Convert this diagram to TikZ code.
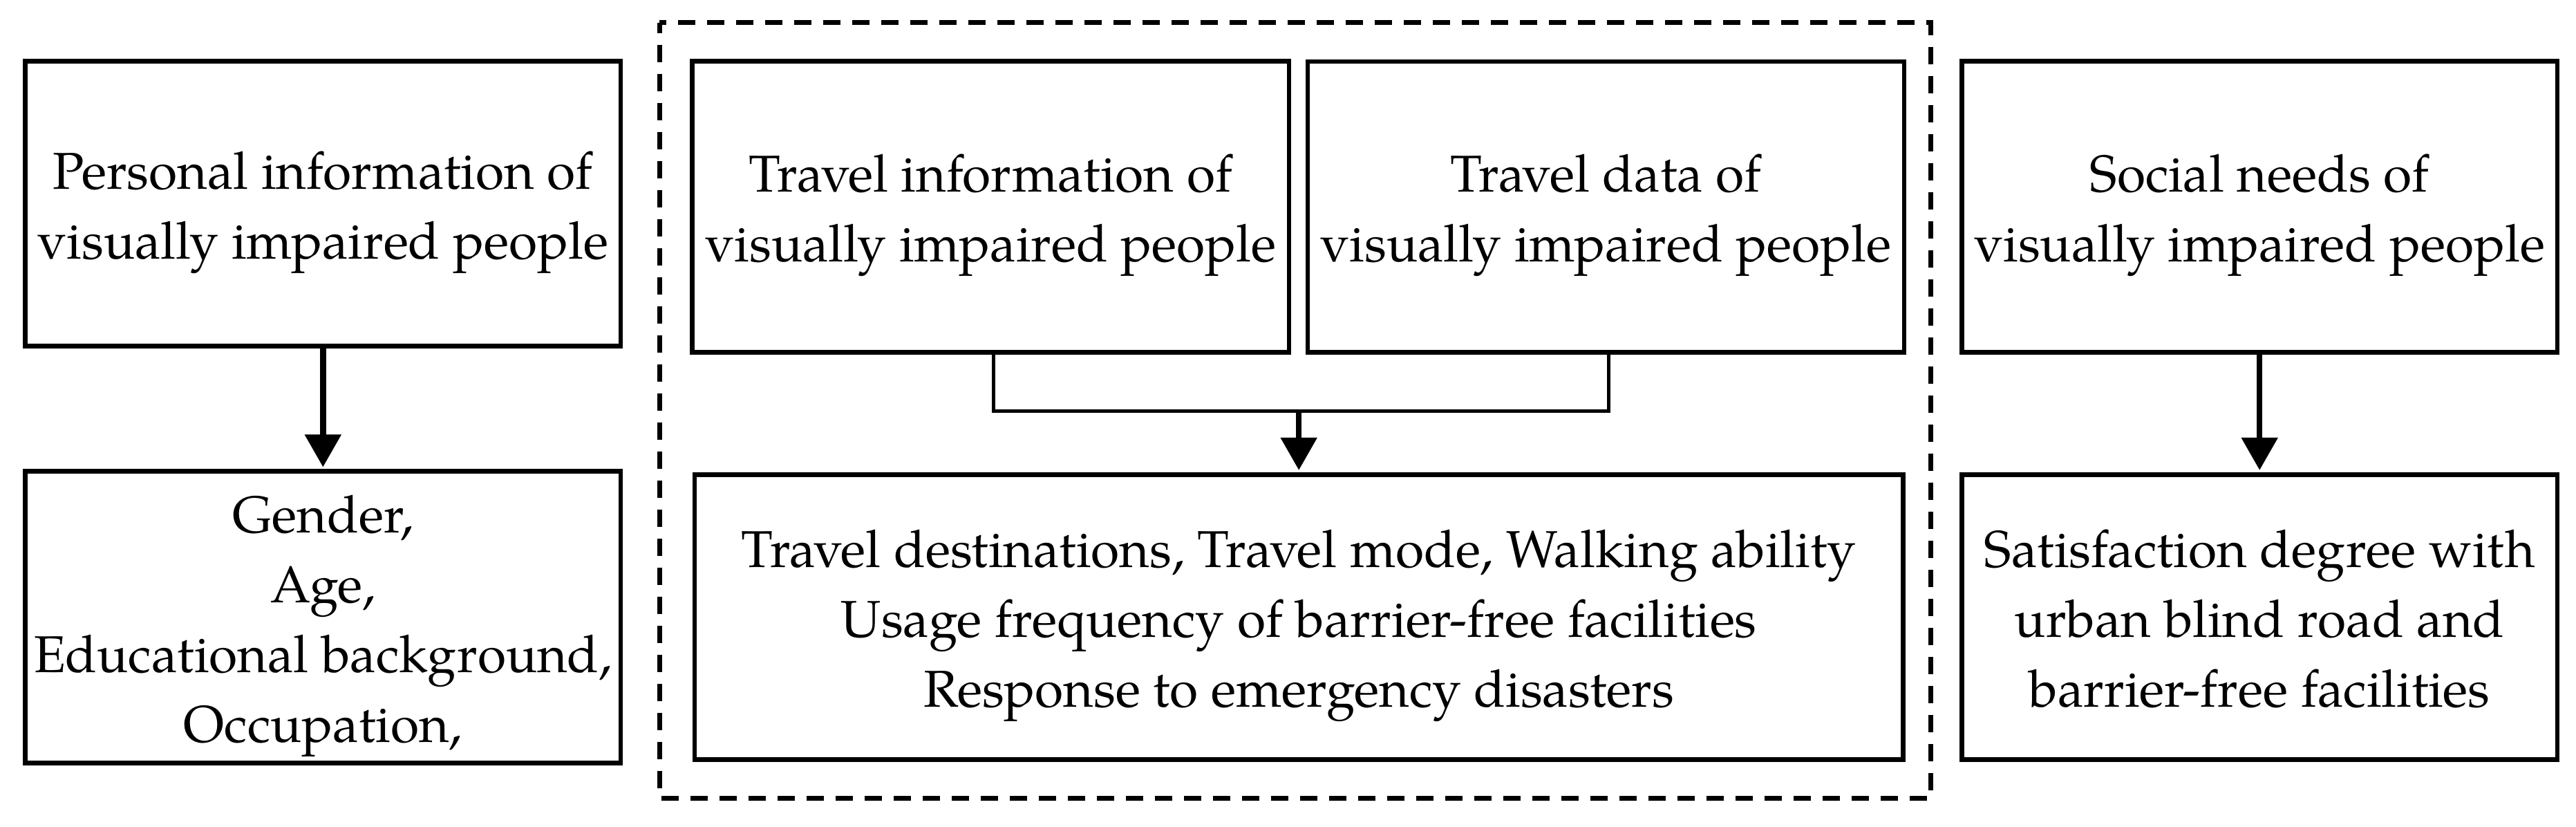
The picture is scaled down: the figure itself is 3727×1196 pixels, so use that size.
\documentclass[tikz,border=0pt]{standalone}
\usepackage{fontspec}
\setmainfont{TeX Gyre Pagella}
\usetikzlibrary{arrows.meta}
\newcommand\bxt[1]{\begin{tabular}{@{}c@{}}\rule{0pt}{88.7pt}#1\end{tabular}}
\begin{document}
\begin{tikzpicture}[x=1pt,y=1pt,
  box/.style={draw, line width=6.7pt, inner sep=0pt,
    font=\fontsize{75}{101}\selectfont},
  thinline/.style={line width=5pt},
  arr/.style={line width=8.5pt, shorten >=3pt, -{Triangle[width=51pt,length=47pt]}},
  dashbox/.style={draw, line width=6.7pt, dash pattern=on 25pt off 17pt, dash phase=10pt}]
\useasboundingbox (0,0) rectangle (3727,-1196);
\fill[white] (0,0) rectangle (3727,-1196);
% dashed frame
\draw[dashbox] (954.3,-32.7) rectangle (2793.3,-1154.3);
% boxes
\node[box, minimum width=861.5pt, minimum height=412.4pt] (pi) at (467.3,-294.5) {\bxt{Personal information of\\visually impaired people}};
\node[box, minimum width=861.5pt, minimum height=412.5pt] (pd) at (467.3,-892.8) {\bxt{Gender,\\Age,\\Educational background,\\Occupation,}};
\node[box, minimum width=863.3pt, minimum height=421pt] (ti) at (1433.4,-298.8) {\bxt{Travel information of\\visually impaired people}};
\node[box, minimum width=863pt, minimum height=420.3pt] (td) at (2323.5,-299.2) {\bxt{Travel data of\\visually impaired people}};
\node[box, minimum width=1748.3pt, minimum height=412pt] (tr) at (1879.2,-892.3) {\bxt{Travel destinations, Travel mode, Walking ability\\Usage frequency of barrier-free facilities\\Response to emergency disasters}};
\node[box, minimum width=861.7pt, minimum height=421pt] (sn) at (3269.2,-298.8) {\bxt{Social needs of\\visually impaired people}};
\node[box, minimum width=861.7pt, minimum height=412pt] (sd) at (3269.2,-892.3) {\bxt{Satisfaction degree with\\urban blind road and\\barrier-free facilities}};
% connectors
\coordinate (j) at (1879.2,-594);
\draw[thinline] ([xshift=4pt]ti.south) |- (j) -| ([xshift=4pt]td.south);
\draw[arr] (j) -- (tr.north);
\draw[arr] (pi.south) -- (pd.north);
\draw[arr] (sn.south) -- (sd.north);
\end{tikzpicture}
\end{document}
